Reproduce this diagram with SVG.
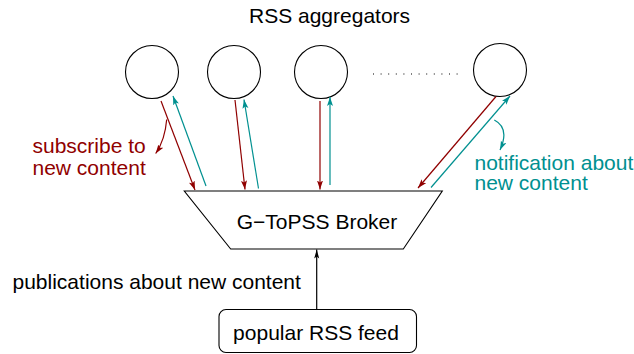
<svg xmlns="http://www.w3.org/2000/svg" width="634" height="354" viewBox="0 0 634 354">
<style>
text{font-family:"Liberation Sans",Arial,sans-serif;font-size:21px;}
.blk{fill:#000;}
.red{fill:#900000;}
.teal{fill:#009090;}
.node{fill:#fff;stroke:#000;stroke-width:1.1;}
.lr{stroke:#900000;stroke-width:1.2;fill:none;}
.lt{stroke:#009090;stroke-width:1.2;fill:none;}
.lk{stroke:#000;stroke-width:1.2;fill:none;}
</style>
<defs>
<marker id="ar" markerUnits="userSpaceOnUse" markerWidth="10" markerHeight="8" refX="9" refY="3" orient="auto"><path d="M0,0 L9,3 L0,6 L2,3 Z" fill="#900000"/></marker>
<marker id="at" markerUnits="userSpaceOnUse" markerWidth="10" markerHeight="8" refX="9" refY="3" orient="auto"><path d="M0,0 L9,3 L0,6 L2,3 Z" fill="#009090"/></marker>
<marker id="ak" markerUnits="userSpaceOnUse" markerWidth="10" markerHeight="8" refX="9" refY="3" orient="auto"><path d="M0,0.5 L9,3 L0,5.5 L2,3 Z" fill="#000"/></marker>
</defs>
<rect width="634" height="354" fill="#fff"/>
<text x="249" y="22.5" class="blk">RSS aggregators</text>
<g id="agg1"><circle cx="152" cy="72" r="26.5" class="node"/></g>
<g id="agg2"><circle cx="234" cy="72" r="26.5" class="node"/></g>
<g id="agg3"><circle cx="321" cy="72" r="26.5" class="node"/></g>
<g id="agg4"><circle cx="500" cy="70" r="26.5" class="node"/></g>
<line x1="373" y1="74" x2="458" y2="74" stroke="#000" stroke-width="1.2" stroke-dasharray="1 6.6"/>
<g id="broker"><path d="M184.3,191 L442.3,191 L403.3,249 L230.7,249 Z" class="node"/><text x="317" y="229" text-anchor="middle" class="blk">G−ToPSS Broker</text></g>
<g id="feed"><rect x="219" y="309.5" width="197.5" height="43" rx="7" class="node"/><text x="316" y="339.5" text-anchor="middle" class="blk">popular RSS feed</text></g>
<g id="connectors">
<line x1="161" y1="101" x2="195" y2="190" class="lr" marker-end="url(#ar)"/>
<line x1="206" y1="186" x2="173" y2="96" class="lt" marker-end="url(#at)"/>
<line x1="235" y1="100" x2="245" y2="189.5" class="lr" marker-end="url(#ar)"/>
<line x1="258.5" y1="188.5" x2="244" y2="99.5" class="lt" marker-end="url(#at)"/>
<line x1="320" y1="101" x2="320" y2="189.5" class="lr" marker-end="url(#ar)"/>
<line x1="330" y1="185" x2="330" y2="97" class="lt" marker-end="url(#at)"/>
<line x1="496" y1="96.5" x2="418" y2="188" class="lr" marker-end="url(#ar)"/>
<line x1="431" y1="187.5" x2="510" y2="96" class="lt" marker-end="url(#at)"/>
<line x1="316.7" y1="309.5" x2="316.7" y2="249.5" class="lk" marker-end="url(#ak)"/>
<path d="M166.7,119.5 Q165,140 155.7,153.5" class="lr" marker-end="url(#ar)"/>
<path d="M494.3,120 Q510,128 500,150" class="lt" marker-end="url(#at)"/>
</g>
<text x="32.5" y="152.7" class="red">subscribe to</text>
<text x="32.5" y="175.2" class="red">new content</text>
<text x="474.5" y="170" class="teal">notification about</text>
<text x="474.5" y="189.5" class="teal">new content</text>
<text x="12.5" y="289" class="blk">publications about new content</text>
</svg>
